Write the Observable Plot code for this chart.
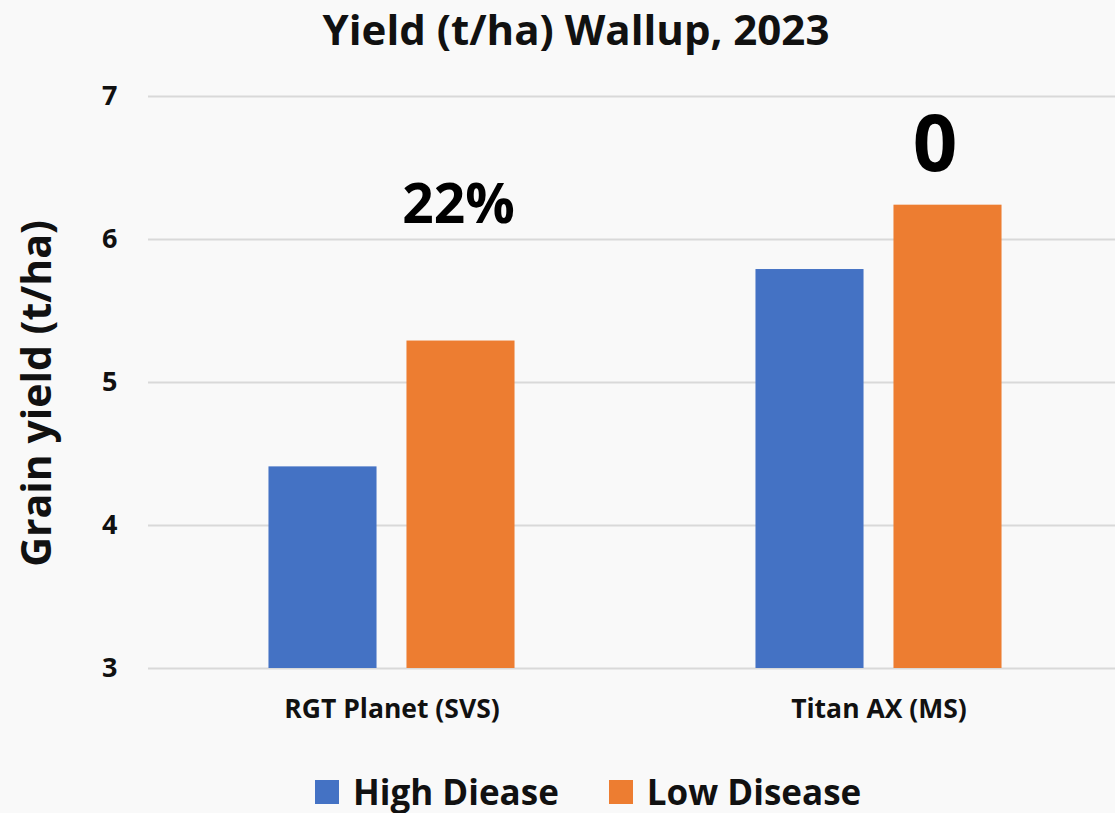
<!DOCTYPE html>
<html>
<head>
<meta charset="utf-8">
<script src="https://cdn.jsdelivr.net/npm/d3@7"></script>
<script src="https://cdn.jsdelivr.net/npm/@observablehq/plot@0.6"></script>
<style>
  html, body { margin: 0; padding: 0; background: #f9f9f9; overflow: hidden; }
  body { width: 1115px; height: 813px; position: relative; font-family: "Open Sans", sans-serif; color: #111; }
  #title {
    position: absolute; left: 0; width: 1152px; top: 8px; text-align: center;
    font-size: 42px; font-weight: 700; line-height: 42px; white-space: nowrap;
  }
  #chart { position: absolute; left: 0; top: 0; width: 1122px; }
  #chart > svg { max-width: none !important; }
  #legend { position: absolute; left: 315px; top: 774px; }
  .yl-swatches { font-family: "Open Sans", sans-serif; font-size: 35px; font-weight: 700; color: #111;
                 line-height: 35px; min-height: 0 !important; }
  .yl-swatch { margin-right: 50px !important; }
  .yl-swatch > svg { margin-right: 14px !important; }
</style>
</head>
<body>
<div id="title">Yield (t/ha) Wallup, 2023</div>
<div id="chart"></div>
<div id="legend"></div>
<script>
// Cultivars, treatments and mean grain yield (t/ha)
const cultivars = ["RGT Planet (SVS)", "Titan AX (MS)"];
const treatments = ["High Diease", "Low Disease"];
const highDisease = [4.41, 5.79];
const lowDisease = [5.29, 6.24];
const changeLabels = ["22%", "0"];
const yTicks = [3, 4, 5, 6, 7];
const yTitle = "Grain yield (t/ha)";
const colors = ["#4472C4", "#ED7D31"];

const rows = cultivars.flatMap((c, i) => [
  {cultivar: c, treatment: treatments[0], value: highDisease[i]},
  {cultivar: c, treatment: treatments[1], value: lowDisease[i]}
]);
const notes = cultivars.map((c, i) => ({
  cultivar: c, treatment: treatments[1], value: lowDisease[i], label: changeLabels[i]
}));

const chart = Plot.plot({
  width: 1122,
  height: 748,
  marginTop: 96,
  marginBottom: 80,
  marginLeft: 148,
  marginRight: 0,
  style: {fontFamily: "Open Sans, sans-serif", background: "transparent", color: "#111", overflow: "visible", maxWidth: "none"},
  fx: {domain: cultivars, paddingInner: 0, paddingOuter: 0, round: false, label: null},
  x: {domain: treatments, paddingInner: 0.217, paddingOuter: 0.873, round: false, axis: null},
  y: {domain: [3, 7], label: null},
  color: {domain: treatments, range: colors},
  marks: [
    Plot.gridY(yTicks, {stroke: "#d9d9d9", strokeOpacity: 1, strokeWidth: 2}),
    Plot.barY(rows, {fx: "cultivar", x: "treatment", y1: 3, y2: "value", fill: "treatment"}),
    Plot.axisY(yTicks, {
      tickSize: 0, tickPadding: 31, fontSize: 27, fontWeight: 700,
      tickFormat: "d", label: null
    }),
    // y-axis title, drawn once beside the first facet
    Plot.text([yTitle], {
      fx: [cultivars[0]], frameAnchor: "left", textAnchor: "middle", text: d => d, rotate: -90,
      dx: -111, dy: 11, fontSize: 41, fontWeight: 700, fill: "#111"
    }),
    Plot.axisFx({anchor: "bottom", tickSize: 0, tickPadding: 31, fontSize: 26.5, fontWeight: 700, label: null}),
    Plot.text(notes.slice(0, 1), {
      fx: "cultivar", x: "treatment", y: "value", text: "label",
      fontSize: 55, fontWeight: 700, fill: "#000", dx: -2.5, dy: -136
    }),
    Plot.text(notes.slice(1), {
      fx: "cultivar", x: "treatment", y: "value", text: "label",
      fontSize: 78, fontWeight: 700, fill: "#000", dx: -13, dy: -59
    })
  ]
});
document.getElementById("chart").append(chart);

const legend = chart.legend("color", {swatchSize: 24, className: "yl"});
document.getElementById("legend").append(legend);
</script>
</body>
</html>
